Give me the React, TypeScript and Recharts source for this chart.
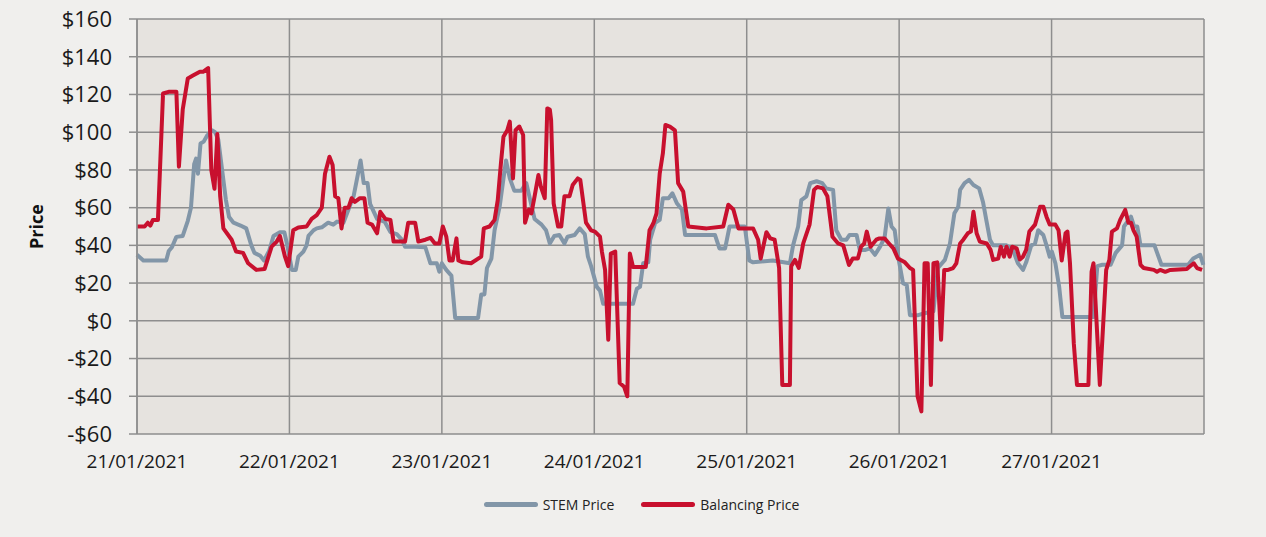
import React from 'react'
import {
  LineChart, Line, XAxis, YAxis, CartesianGrid, Legend,
} from 'recharts'

// hours since 21/01/2021 00:00, price in $/MWh
const dayLabels = ['21/01/2021', '22/01/2021', '23/01/2021', '24/01/2021', '25/01/2021', '26/01/2021', '27/01/2021']
const dayTicks = [0, 24, 48, 72, 96, 120, 144, 168]
const priceTicks = [-60, -40, -20, 0, 20, 40, 60, 80, 100, 120, 140, 160]

const stemPoints: [number, number][] = [
  [0, 35], [1, 32], [4.6, 32], [5, 37], [5.5, 39], [6.2, 44.5], [7.2, 45], [8, 53], [8.5, 60], [9, 83], [9.3, 86], [9.6, 78],
  [10, 94], [10.5, 95], [11, 98], [11.8, 101], [12.3, 100], [12.8, 96], [13.4, 80], [14, 64], [14.5, 55], [15.2, 52],
  [16.3, 50.5], [17.2, 49], [18, 40], [18.5, 36], [19.4, 34.5], [20, 32], [20.8, 37], [21.5, 45], [22.5, 47], [23.2, 47], [23.6, 41],
  [24.4, 27], [25, 27], [25.4, 34], [26.2, 36.7], [26.7, 40], [27, 45], [27.8, 48], [28.3, 49], [29.1, 49.6], [30.1, 52],
  [30.9, 51], [31.5, 52.6], [32.5, 52], [33.3, 59], [34.1, 66], [34.8, 78], [35.2, 85], [35.7, 73], [36.3, 73], [36.7, 62],
  [37.8, 54], [39, 52.5], [39.9, 47], [40.9, 46], [41.7, 43], [42.2, 39.3], [43.8, 39.3], [45.4, 39], [46.2, 30.5], [47.2, 30.5], [47.6, 26],
  [48, 30.5], [48.7, 27], [49.5, 24], [50.1, 1.5], [53.7, 1.5], [54.2, 14], [54.7, 14], [55.1, 28], [55.8, 33], [56.3, 48],
  [57.1, 60.5], [57.6, 73], [58.1, 85], [58.7, 75.5], [59.4, 69], [60.5, 69], [61.3, 73], [62.6, 54], [63.7, 51], [64.4, 48],
  [65, 41], [65.7, 45], [66.5, 45.5], [67.3, 41], [67.8, 44.6], [68.9, 45.5], [69.7, 49], [70.5, 46], [71, 34], [71.5, 29],
  [72.4, 18], [72.9, 16], [73.4, 9], [78.1, 9], [78.7, 17], [79.2, 18], [79.7, 30.5], [80.5, 31], [80.8, 43], [81.6, 52],
  [82.3, 53.5], [82.8, 65], [83.7, 65], [84.3, 67.6], [85, 62.3], [85.8, 59], [86.3, 45.5], [91, 45.5], [91.7, 38.4],
  [92.6, 38.4], [93.3, 50], [95.7, 50],
  [96.4, 32], [97, 31], [100.1, 32], [102.8, 30.5], [103.3, 40], [104.1, 50], [104.6, 64], [105.4, 66], [106, 73], [107, 74],
  [107.9, 73], [108.5, 70.2], [109.6, 69.4], [110.1, 48], [110.9, 43], [111.7, 43], [112.2, 45.5], [113.3, 45.5], [113.8, 37.6],
  [114.7, 37.6], [115.4, 38.4], [116.2, 35], [117, 39.3], [117.7, 44], [118.3, 59.6], [118.8, 50], [119.3, 48], [119.8, 35],
  [120.6, 20], [121.2, 19], [121.7, 3], [123, 3], [124, 4], [125.4, 5], [126.1, 28], [127.2, 32.3], [128, 41], [128.7, 57],
  [129.3, 60.5], [129.6, 69.4], [130.3, 73], [131, 74.7], [131.7, 72], [132.6, 70.2], [133.2, 63], [133.8, 52], [134.3, 43],
  [134.8, 40], [136.9, 40], [137.9, 37.6], [138.7, 30.5], [139.5, 27], [140, 31], [140.8, 40], [141.4, 41], [141.9, 48],
  [142.7, 45.5], [143.2, 40], [143.7, 34],
  [144.05, 36.7], [144.6, 30.5], [145.2, 18], [145.7, 2], [150.6, 2], [151.2, 29], [152, 29.7], [153.3, 29.7], [154.1, 36],
  [155.1, 40], [155.4, 50], [156.5, 55.2], [157, 50], [157.5, 50], [158, 40], [160.2, 40], [161.3, 29.7], [165.5, 29.7],
  [166.3, 33], [167.4, 35], [167.9, 29.7],
]

const balancingPoints: [number, number][] = [
  [0, 50], [1.2, 50], [1.7, 52], [2.1, 50.5], [2.5, 53.5], [3.3, 53.5], [4.1, 120.5], [5.1, 121.5], [6.2, 121.5], [6.6, 81.7],
  [7.2, 112], [8, 128.5], [8.8, 130], [9.9, 132], [10.4, 132], [11.2, 134], [11.7, 80], [12.2, 70], [12.65, 99], [13.1, 66],
  [13.6, 49], [14.9, 43], [15.6, 36.7], [16.7, 36], [17.5, 30.5], [18.8, 27], [20.1, 27.5], [20.6, 33], [21.2, 39.3], [22, 42],
  [22.5, 45], [23.3, 34], [23.8, 29],
  [24.6, 48], [25.4, 49.5], [26.7, 50], [27.5, 54], [28.3, 56], [29.1, 60], [29.6, 78], [30.3, 87], [30.8, 82.6], [31.2, 66],
  [31.7, 65], [32.2, 49], [32.7, 60], [33.3, 60], [33.8, 65], [34.3, 63], [35.1, 65], [35.8, 65], [36.3, 52], [37, 51],
  [37.8, 46.4], [38.3, 57.8], [39.1, 54], [39.9, 53.5], [40.4, 42], [42.2, 42], [42.7, 52], [43.8, 52], [44.3, 42], [45.4, 43],
  [46.2, 44], [46.9, 41], [47.6, 41],
  [48.15, 50], [48.7, 44.6], [49.2, 32], [49.7, 32], [50.3, 43.7], [50.6, 32], [51.3, 31], [52.6, 30.5], [54.2, 34], [54.6, 49],
  [55.5, 50], [56.3, 53.5], [56.8, 64], [57.3, 83.5], [57.7, 97.6], [58.3, 101], [58.7, 105.6], [59.2, 75.5], [59.6, 101],
  [60.2, 103], [60.8, 98.5], [61.1, 52], [61.7, 59], [62.1, 57], [62.6, 66], [63.2, 77.3], [63.6, 71], [64.2, 65], [64.6, 112.6],
  [65, 112], [65.2, 106.5], [65.6, 62.3], [66.3, 50], [66.8, 50], [67.3, 66], [68.1, 66], [68.6, 72], [69.4, 75.5], [69.8, 74.7],
  [70.7, 52], [71.5, 48],
  [72.1, 47.3], [72.9, 44.6], [73.2, 36.7], [73.7, 27], [74.2, -10], [74.6, 35.7], [75.3, 36.7], [76, -33], [76.7, -35],
  [77.2, -40], [77.6, 35.7], [78.1, 28.5], [80.1, 28.5], [80.7, 48], [81.3, 51.7], [81.8, 57], [82.3, 78], [82.8, 88.8],
  [83.2, 103.8], [83.9, 103], [84.7, 101], [85.2, 73], [86, 68.5], [86.8, 50], [89.7, 49], [92.3, 50], [93.1, 61.5], [93.9, 59],
  [94.7, 49],
  [97, 49], [97.8, 43], [98.2, 33], [99.1, 47], [99.7, 43.7], [100.4, 43], [101.1, 28], [101.6, -34], [102.8, -34], [103, 28.9],
  [103.6, 32.3], [104.2, 28], [104.9, 41], [105.9, 51], [106.6, 69.4], [107.1, 71], [108, 70.2], [108.7, 66], [109.5, 44.6],
  [110.4, 41], [111.2, 40], [112.1, 29.6], [112.7, 33], [113.5, 33], [114, 39.3], [114.5, 41], [114.9, 47.3], [115.5, 39.3],
  [115.9, 41], [116.4, 43], [116.9, 43.7], [117.7, 43.7], [118.4, 41], [119.1, 38.4], [119.8, 33],
  [120.9, 31], [121.7, 28], [122.2, 27], [122.9, -40], [123.5, -48], [124, 30.5], [124.5, 30.5], [125, -34], [125.4, 30.5],
  [126, 31], [126.6, -10], [127.1, 27], [127.7, 27], [128.5, 28], [129, 30.5], [129.6, 41], [130.1, 43], [130.8, 46.4],
  [131.3, 47.3], [131.7, 57.8], [132.2, 46.4], [132.7, 42], [133.8, 41], [134.4, 37.6], [134.8, 32.3], [135.6, 33], [136, 39.3],
  [136.5, 34], [136.9, 39.3], [137.4, 34], [137.8, 39.3], [138.5, 38.4], [139, 32.5], [139.5, 34], [140, 37.6], [140.5, 47.3],
  [141.4, 51], [142.2, 60.5], [142.7, 60.5], [143.2, 55.2], [143.7, 51],
  [144.6, 51], [145.1, 48], [145.6, 32], [146.2, 46.4], [146.5, 47.3], [146.9, 30.5], [147.5, -12], [148, -34], [149.8, -34],
  [150.3, 26], [150.6, 30.5], [151.6, -34], [152.6, 27], [153.1, 32.3], [153.5, 47.3], [154.3, 49], [154.8, 53.5], [155.6, 58.8],
  [156.1, 52], [156.5, 52], [156.9, 48], [157.4, 44.6], [158, 29.7], [158.5, 28], [160.1, 27], [160.6, 26], [161.1, 27],
  [161.9, 26], [162.7, 27], [165.3, 27.5], [165.8, 28.9], [166.4, 30.5], [166.9, 28], [167.7, 27],
]

const SERIES = [
  { name: 'STEM Price', color: '#8296A8' },
  { name: 'Balancing Price', color: '#C8102E' },
]

const stemData = stemPoints.map(([hour, price]) => ({ hour, price }))
const balancingData = balancingPoints.map(([hour, price]) => ({ hour, price }))

const GRID = '#8E8E8E'
const FONT = '"Open Sans", "Liberation Sans", sans-serif'

function money(v: number) {
  return v < 0 ? `-$${-v}` : `$${v}`
}

function renderLegend() {
  return (
    <div style={{ display: 'flex', justifyContent: 'center', alignItems: 'center', paddingLeft: 17, fontFamily: FONT, fontSize: 14, color: '#222' }}>
      {SERIES.map((s, i) => (
        <div key={s.name} style={{ display: 'flex', alignItems: 'center', marginRight: i === 0 ? 27 : 0 }}>
          <span style={{ display: 'inline-block', width: 54, height: 5, borderRadius: 3, background: s.color, marginRight: 5 }} />
          <span>{s.name}</span>
        </div>
      ))}
    </div>
  )
}

export default function App() {
  return (
    <div style={{ position: 'absolute', left: 0, top: 0, width: 1266, height: 537, background: '#F0EFED' }}>
      <LineChart width={1266} height={537} margin={{ top: 19, right: 62, bottom: 73, left: 0 }}>
        <CartesianGrid stroke={GRID} strokeWidth={1.5} fill="#E6E3DF" fillOpacity={1} />
        <XAxis
          dataKey="hour"
          type="number"
          domain={[0, 168]}
          ticks={dayTicks}
          tickFormatter={v => dayLabels[v / 24] ?? ''}
          axisLine={false}
          tickLine={false}
          tickMargin={15}
          height={30}
          interval={0}
          tick={{ fontSize: 19, fill: '#1a1a1a', fontFamily: FONT }}
        />
        <YAxis
          type="number"
          domain={[-60, 160]}
          ticks={priceTicks}
          interval={0}
          width={137}
          tickFormatter={money}
          axisLine={{ stroke: GRID, strokeWidth: 1.5 }}
          tickLine={{ stroke: GRID, strokeWidth: 1.5 }}
          tickSize={8}
          tickMargin={17}
          tick={{ fontSize: 22, fill: '#1a1a1a', fontFamily: FONT }}
          label={{ value: 'Price', angle: -90, position: 'center', dx: -32, style: { fontSize: 18, fontWeight: 700, fill: '#111', fontFamily: FONT } }}
        />
        <Legend
          layout="horizontal"
          verticalAlign="middle"
          align="center"
          content={renderLegend}
          wrapperStyle={{ top: 495, left: 0, width: 1266 }}
        />
        <Line data={stemData} dataKey="price" name="STEM Price" type="linear" stroke="#8296A8" strokeWidth={4}
          dot={false} isAnimationActive={false} strokeLinejoin="round" />
        <Line data={balancingData} dataKey="price" name="Balancing Price" type="linear" stroke="#C8102E" strokeWidth={4}
          dot={false} isAnimationActive={false} strokeLinejoin="round" />
      </LineChart>
    </div>
  )
}
